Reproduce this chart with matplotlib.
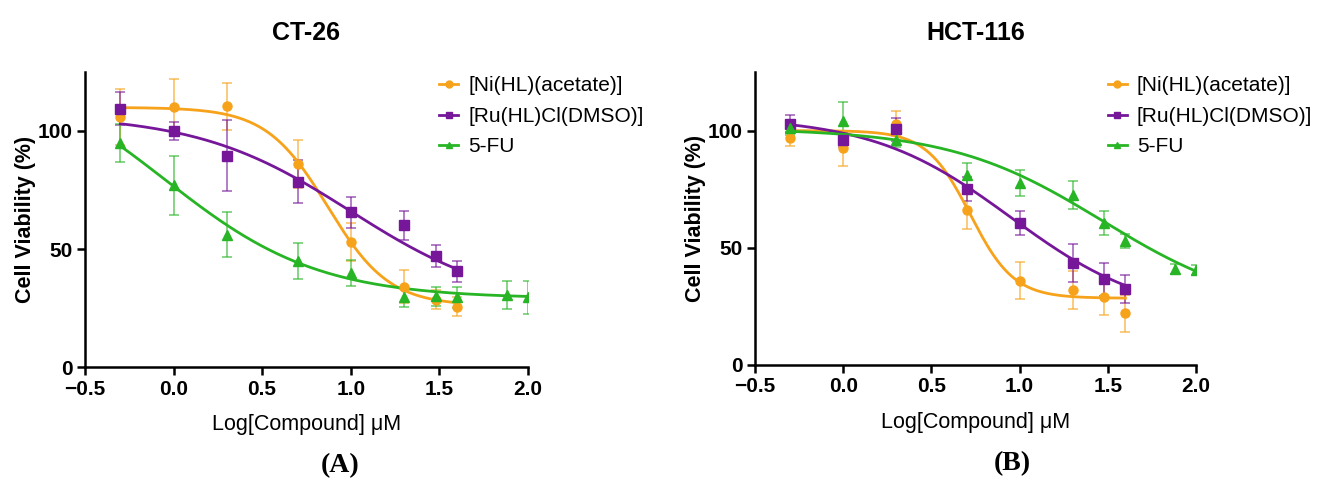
import numpy as np
import matplotlib
matplotlib.use("Agg")
from matplotlib import pyplot as plt

plt.rcParams["font.family"] = ["Liberation Sans", "DejaVu Sans"]

# x positions (log concentration, uM)
x_main = [-0.3, 0.0, 0.3, 0.7, 1.0, 1.3, 1.48, 1.6]
x_fu = [-0.3, 0.0, 0.3, 0.7, 1.0, 1.3, 1.48, 1.6, 1.88, 2.0]

# CT-26
ct_ni = [106, 110, 110.5, 86, 53, 34, 28.5, 25.5]
ct_ni_sd = [12, 12, 10, 10, 8, 7, 4, 4]
ct_ru = [109.5, 100, 89.5, 78.5, 65.5, 60, 47, 40.5]
ct_ru_sd = [7, 4, 15, 9, 6.5, 6, 4.5, 4.5]
ct_fu = [95, 77, 56, 45, 40, 29.5, 30, 29.5, 30.5, 29.5]
ct_fu_sd = [8, 12.5, 9.5, 7.5, 5.5, 4, 4, 4.5, 6, 7]

# HCT-116
hct_ni = [97, 92.5, 103, 66, 36, 32, 29, 22]
hct_ni_sd = [3.5, 7.5, 5.5, 8, 8, 8, 7.5, 8]
hct_ru = [103, 96, 100.5, 75, 60.5, 43.5, 36.5, 32.5]
hct_ru_sd = [3.5, 3, 5, 5, 5, 8, 7, 6]
hct_fu = [101, 104, 96, 81, 77.5, 72.5, 60.5, 53, 41, 40.5]
hct_fu_sd = [3, 8, 3, 5, 5.5, 6, 5, 3, 2, 2]

# fitted dose-response parameters: top, bottom, logIC50, hill
ct_fit = {"ni": (110, 26, 0.87, 2.5), "ru": (107, 25, 1.0, 1.0), "fu": (130, 29, -0.05, 1.0)}
hct_fit = {"ni": (100, 28.5, 0.72, 3.5), "ru": (106, 20, 0.95, 1.1), "fu": (101, 22, 1.47, 1.0)}

labels = ["[Ni(HL)(acetate)]", "[Ru(HL)Cl(DMSO)]", "5-FU"]
colors = ["#F7A21B", "#76179A", "#27B525"]
markers = ["o", "s", "^"]


def logistic(x, top, bottom, c, h):
    return bottom + (top - bottom) / (1 + 10 ** ((x - c) * h))


fig = plt.figure(figsize=(13.23, 4.79), dpi=100)
ax1 = fig.add_axes([0.0642, 0.2338, 0.3348, 0.6159])
ax2 = fig.add_axes([0.5707, 0.238, 0.3333, 0.6117])

panels = [
    (ax1, "CT-26", "(A)", [ct_ni, ct_ru, ct_fu], [ct_ni_sd, ct_ru_sd, ct_fu_sd], ct_fit, 0.576),
    (ax2, "HCT-116", "(B)", [hct_ni, hct_ru, hct_fu], [hct_ni_sd, hct_ru_sd, hct_fu_sd], hct_fit, 0.583),
]

for ax, title, letter, ys, sds, fit, lx in panels:
    for i, key in enumerate(["ni", "ru", "fu"]):
        xs = x_fu if key == "fu" else x_main
        ax.errorbar(xs, ys[i], yerr=sds[i], fmt="none", ecolor=colors[i],
                    alpha=0.6, capsize=3.5, elinewidth=1.3, capthick=1.3, zorder=2)
        xx = np.linspace(xs[0], xs[-1], 200)
        ax.plot(xx, logistic(xx, *fit[key]), color=colors[i], lw=2, zorder=3)
        ax.plot(xs, ys[i], marker=markers[i], ls="none", color=colors[i], ms=6.5, zorder=4)
        # legend proxy
        ax.plot([], [], marker=markers[i], color=colors[i], lw=2, ms=5, label=labels[i])

    ax.set_xlim(-0.5, 2.0)
    ax.set_ylim(0, 125)
    ax.set_xticks([-0.5, 0.0, 0.5, 1.0, 1.5, 2.0])
    ax.set_xticklabels(["\u22120.5", "0.0", "0.5", "1.0", "1.5", "2.0"])
    ax.set_yticks([0, 50, 100])
    ax.spines["top"].set_visible(False)
    ax.spines["right"].set_visible(False)
    for s in ["left", "bottom"]:
        ax.spines[s].set_linewidth(1.8)
    ax.tick_params(width=1.8, length=6, labelsize=15, pad=3)
    for lab in ax.get_xticklabels() + ax.get_yticklabels():
        lab.set_fontweight("bold")
    ax.set_xlabel("Log[Compound] \u03bcM", fontsize=15.5, labelpad=11)
    ax.set_ylabel("Cell Viability (%)", fontsize=15.5, fontweight="bold", labelpad=1)
    ax.set_title(title, fontsize=18, fontweight="bold", pad=23)
    ax.legend(loc="upper left", bbox_to_anchor=(0.80, 0.985), frameon=False,
              fontsize=15, handlelength=0.9, handletextpad=0.5, labelspacing=0.55,
              borderpad=0, borderaxespad=0)
    ax.text(lx, -0.335, letter, transform=ax.transAxes, ha="center", va="center",
            fontsize=20, fontweight="bold", family="Liberation Serif")

plt.savefig("out.png", dpi=100)
